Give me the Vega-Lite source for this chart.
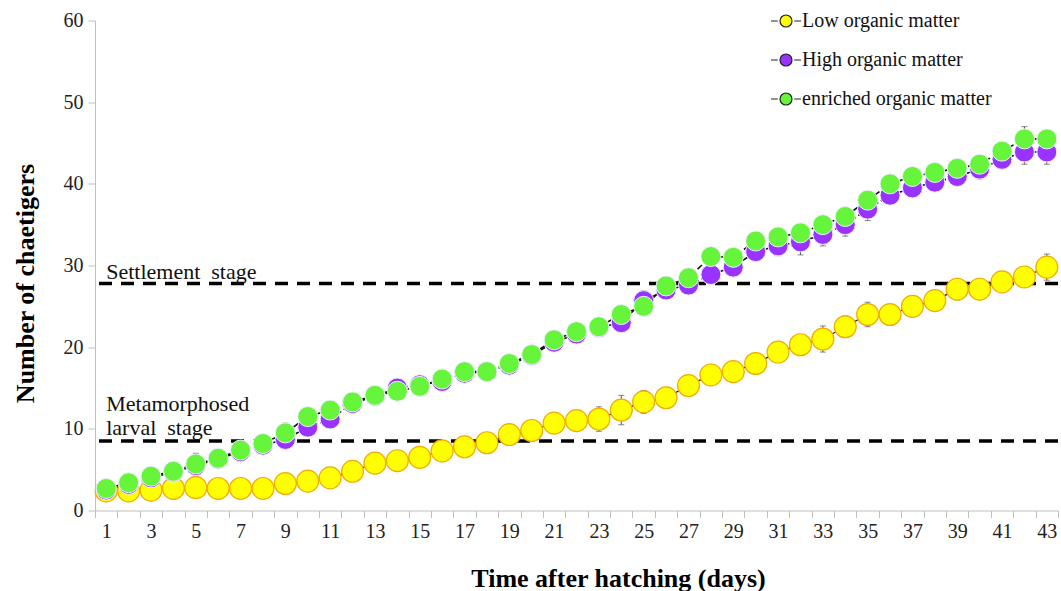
{
  "$schema": "https://vega.github.io/schema/vega-lite/v6.json",
  "width": 963,
  "height": 490,
  "autosize": {"type": "none"},
  "padding": {"left": 95, "top": 20.5, "right": 3, "bottom": 80.5},
  "background": "white",
  "config": {
    "view": {"stroke": null},
    "font": "Liberation Serif",
    "axis": {"grid": false, "domainColor": "#BFBFBF", "tickColor": "#BFBFBF", "tickSize": 7, "labelFont": "Liberation Serif", "labelFontSize": 20, "labelColor": "#222222", "titleFont": "Liberation Serif", "titleFontSize": 26, "titleFontWeight": "bold", "titleColor": "#000000"}
  },
  "data": {"values": [
    {"day":1,"series":"Low organic matter","value":2.4,"err":0.3},
    {"day":2,"series":"Low organic matter","value":2.4,"err":0.2},
    {"day":3,"series":"Low organic matter","value":2.5,"err":0.2},
    {"day":4,"series":"Low organic matter","value":2.7,"err":0.2},
    {"day":5,"series":"Low organic matter","value":2.8,"err":0.3},
    {"day":6,"series":"Low organic matter","value":2.7,"err":0.2},
    {"day":7,"series":"Low organic matter","value":2.7,"err":0.2},
    {"day":8,"series":"Low organic matter","value":2.7,"err":0.2},
    {"day":9,"series":"Low organic matter","value":3.3,"err":0.3},
    {"day":10,"series":"Low organic matter","value":3.6,"err":0.3},
    {"day":11,"series":"Low organic matter","value":4.0,"err":0.3},
    {"day":12,"series":"Low organic matter","value":4.8,"err":0.4},
    {"day":13,"series":"Low organic matter","value":5.8,"err":0.3},
    {"day":14,"series":"Low organic matter","value":6.1,"err":0.3},
    {"day":15,"series":"Low organic matter","value":6.5,"err":1.2},
    {"day":16,"series":"Low organic matter","value":7.3,"err":1.2},
    {"day":17,"series":"Low organic matter","value":7.8,"err":0.4},
    {"day":18,"series":"Low organic matter","value":8.3,"err":0.4},
    {"day":19,"series":"Low organic matter","value":9.3,"err":0.3},
    {"day":20,"series":"Low organic matter","value":9.8,"err":0.4},
    {"day":21,"series":"Low organic matter","value":10.7,"err":0.5},
    {"day":22,"series":"Low organic matter","value":11.0,"err":0.9},
    {"day":23,"series":"Low organic matter","value":11.2,"err":1.5},
    {"day":24,"series":"Low organic matter","value":12.3,"err":1.8},
    {"day":25,"series":"Low organic matter","value":13.3,"err":1.4},
    {"day":26,"series":"Low organic matter","value":13.8,"err":0.4},
    {"day":27,"series":"Low organic matter","value":15.3,"err":0.5},
    {"day":28,"series":"Low organic matter","value":16.6,"err":0.6},
    {"day":29,"series":"Low organic matter","value":17.0,"err":0.5},
    {"day":30,"series":"Low organic matter","value":18.0,"err":0.4},
    {"day":31,"series":"Low organic matter","value":19.4,"err":0.5},
    {"day":32,"series":"Low organic matter","value":20.3,"err":0.6},
    {"day":33,"series":"Low organic matter","value":21.0,"err":1.6},
    {"day":34,"series":"Low organic matter","value":22.5,"err":1.3},
    {"day":35,"series":"Low organic matter","value":24.0,"err":1.5},
    {"day":36,"series":"Low organic matter","value":24.0,"err":0.4},
    {"day":37,"series":"Low organic matter","value":25.0,"err":1.2},
    {"day":38,"series":"Low organic matter","value":25.7,"err":1.0},
    {"day":39,"series":"Low organic matter","value":27.1,"err":1.3},
    {"day":40,"series":"Low organic matter","value":27.1,"err":0.5},
    {"day":41,"series":"Low organic matter","value":28.0,"err":0.9},
    {"day":42,"series":"Low organic matter","value":28.6,"err":1.2},
    {"day":43,"series":"Low organic matter","value":29.8,"err":1.6},
    {"day":1,"series":"High organic matter","value":2.5,"err":0.3},
    {"day":2,"series":"High organic matter","value":3.2,"err":0.3},
    {"day":3,"series":"High organic matter","value":4.0,"err":0.3},
    {"day":4,"series":"High organic matter","value":4.7,"err":0.3},
    {"day":5,"series":"High organic matter","value":5.5,"err":1.3},
    {"day":6,"series":"High organic matter","value":6.3,"err":0.5},
    {"day":7,"series":"High organic matter","value":7.2,"err":0.4},
    {"day":8,"series":"High organic matter","value":8.0,"err":0.4},
    {"day":9,"series":"High organic matter","value":8.7,"err":1.0},
    {"day":10,"series":"High organic matter","value":10.2,"err":1.0},
    {"day":11,"series":"High organic matter","value":11.2,"err":0.8},
    {"day":12,"series":"High organic matter","value":13.1,"err":0.5},
    {"day":13,"series":"High organic matter","value":14.0,"err":0.4},
    {"day":14,"series":"High organic matter","value":15.0,"err":0.8},
    {"day":15,"series":"High organic matter","value":15.4,"err":0.5},
    {"day":16,"series":"High organic matter","value":15.8,"err":0.5},
    {"day":17,"series":"High organic matter","value":16.8,"err":0.4},
    {"day":18,"series":"High organic matter","value":17.0,"err":0.3},
    {"day":19,"series":"High organic matter","value":17.8,"err":0.4},
    {"day":20,"series":"High organic matter","value":19.0,"err":0.4},
    {"day":21,"series":"High organic matter","value":20.6,"err":0.5},
    {"day":22,"series":"High organic matter","value":21.6,"err":0.4},
    {"day":23,"series":"High organic matter","value":22.4,"err":0.3},
    {"day":24,"series":"High organic matter","value":23.0,"err":1.0},
    {"day":25,"series":"High organic matter","value":25.7,"err":1.2},
    {"day":26,"series":"High organic matter","value":27.0,"err":0.6},
    {"day":27,"series":"High organic matter","value":27.6,"err":1.0},
    {"day":28,"series":"High organic matter","value":28.9,"err":0.5},
    {"day":29,"series":"High organic matter","value":29.8,"err":0.8},
    {"day":30,"series":"High organic matter","value":31.7,"err":0.5},
    {"day":31,"series":"High organic matter","value":32.4,"err":1.2},
    {"day":32,"series":"High organic matter","value":32.9,"err":1.6},
    {"day":33,"series":"High organic matter","value":33.8,"err":1.4},
    {"day":34,"series":"High organic matter","value":35.0,"err":1.4},
    {"day":35,"series":"High organic matter","value":36.9,"err":1.4},
    {"day":36,"series":"High organic matter","value":38.6,"err":0.7},
    {"day":37,"series":"High organic matter","value":39.5,"err":1.0},
    {"day":38,"series":"High organic matter","value":40.2,"err":0.6},
    {"day":39,"series":"High organic matter","value":40.9,"err":0.6},
    {"day":40,"series":"High organic matter","value":41.8,"err":1.2},
    {"day":41,"series":"High organic matter","value":43.0,"err":0.8},
    {"day":42,"series":"High organic matter","value":43.9,"err":1.5},
    {"day":43,"series":"High organic matter","value":43.9,"err":1.5},
    {"day":1,"series":"enriched organic matter","value":2.7,"err":0.3},
    {"day":2,"series":"enriched organic matter","value":3.4,"err":0.3},
    {"day":3,"series":"enriched organic matter","value":4.2,"err":0.3},
    {"day":4,"series":"enriched organic matter","value":4.8,"err":0.4},
    {"day":5,"series":"enriched organic matter","value":5.7,"err":1.3},
    {"day":6,"series":"enriched organic matter","value":6.4,"err":0.5},
    {"day":7,"series":"enriched organic matter","value":7.4,"err":0.4},
    {"day":8,"series":"enriched organic matter","value":8.2,"err":0.4},
    {"day":9,"series":"enriched organic matter","value":9.5,"err":1.2},
    {"day":10,"series":"enriched organic matter","value":11.5,"err":1.0},
    {"day":11,"series":"enriched organic matter","value":12.3,"err":0.5},
    {"day":12,"series":"enriched organic matter","value":13.3,"err":0.4},
    {"day":13,"series":"enriched organic matter","value":14.1,"err":0.3},
    {"day":14,"series":"enriched organic matter","value":14.6,"err":0.3},
    {"day":15,"series":"enriched organic matter","value":15.2,"err":0.3},
    {"day":16,"series":"enriched organic matter","value":16.1,"err":0.3},
    {"day":17,"series":"enriched organic matter","value":17.0,"err":0.3},
    {"day":18,"series":"enriched organic matter","value":17.0,"err":0.3},
    {"day":19,"series":"enriched organic matter","value":18.0,"err":0.4},
    {"day":20,"series":"enriched organic matter","value":19.1,"err":0.3},
    {"day":21,"series":"enriched organic matter","value":20.9,"err":0.3},
    {"day":22,"series":"enriched organic matter","value":21.9,"err":0.3},
    {"day":23,"series":"enriched organic matter","value":22.5,"err":0.3},
    {"day":24,"series":"enriched organic matter","value":24.0,"err":0.3},
    {"day":25,"series":"enriched organic matter","value":25.0,"err":0.4},
    {"day":26,"series":"enriched organic matter","value":27.5,"err":0.4},
    {"day":27,"series":"enriched organic matter","value":28.5,"err":0.4},
    {"day":28,"series":"enriched organic matter","value":31.1,"err":0.4},
    {"day":29,"series":"enriched organic matter","value":31.0,"err":0.4},
    {"day":30,"series":"enriched organic matter","value":33.0,"err":0.5},
    {"day":31,"series":"enriched organic matter","value":33.5,"err":0.5},
    {"day":32,"series":"enriched organic matter","value":34.0,"err":0.4},
    {"day":33,"series":"enriched organic matter","value":35.0,"err":0.4},
    {"day":34,"series":"enriched organic matter","value":36.0,"err":1.0},
    {"day":35,"series":"enriched organic matter","value":38.0,"err":0.5},
    {"day":36,"series":"enriched organic matter","value":40.0,"err":0.5},
    {"day":37,"series":"enriched organic matter","value":40.9,"err":0.5},
    {"day":38,"series":"enriched organic matter","value":41.4,"err":0.5},
    {"day":39,"series":"enriched organic matter","value":41.9,"err":0.5},
    {"day":40,"series":"enriched organic matter","value":42.4,"err":0.5},
    {"day":41,"series":"enriched organic matter","value":44.0,"err":1.0},
    {"day":42,"series":"enriched organic matter","value":45.5,"err":1.5},
    {"day":43,"series":"enriched organic matter","value":45.5,"err":1.0}
  ]},
  "encoding": {
    "x": {
      "field": "day", "type": "ordinal",
      "scale": {"type": "band", "paddingInner": 0, "paddingOuter": 0},
      "axis": {
        "title": "Time after hatching (days)",
        "labelAngle": 0,
        "tickBand": "extent",
        "labelPadding": 4,
        "labelExpr": "datum.value % 2 == 1 ? datum.label : ''",
        "titleX": 523, "titleY": 75.5, "titleBaseline": "alphabetic", "titleAlign": "center", "titleAnchor": null
      }
    },
    "y": {
      "field": "value", "type": "quantitative",
      "scale": {"domain": [0, 60]},
      "title": "Number of chaetigers",
      "axis": {"values": [0, 10, 20, 30, 40, 50, 60], "labelPadding": 5, "titleX": -62, "titleY": 262.5, "titleBaseline": "alphabetic", "titleAlign": "center", "titleAnchor": null}
    }
  },
  "layer": [
    {
      "data": {"values": [{"value": 27.8}, {"value": 8.5}]},
      "mark": {"type": "rule", "color": "#000000", "strokeWidth": 3.5, "strokeDash": [13, 9]},
      "encoding": {"x": null}
    },
    {
      "data": {"values": [
        {"day": 1, "value": 28.4, "label": "Settlement\u00a0 stage"},
        {"day": 1, "value": 12.2, "label": "Metamorphosed"},
        {"day": 1, "value": 9.2, "label": "larval\u00a0 stage"}
      ]},
      "mark": {"type": "text", "align": "left", "baseline": "alphabetic", "font": "Liberation Serif", "fontSize": 22, "color": "#111111", "dx": 0},
      "encoding": {"text": {"field": "label"}}
    },
    {
      "mark": {"type": "errorbar", "color": "#555555", "ticks": {"size": 6, "strokeWidth": 1}, "rule": {"strokeWidth": 1}},
      "encoding": {
        "yError": {"field": "err"},
        "detail": {"field": "series"}
      }
    },
    {
      "transform": [{"filter": "datum.series == 'Low organic matter'"}],
      "mark": {"type": "line", "color": "#1a1a1a", "strokeWidth": 1.3}
    },
    {
      "transform": [{"filter": "datum.series != 'Low organic matter'"}],
      "mark": {"type": "line", "color": "#111111", "strokeWidth": 1.6, "strokeDash": [6, 3]},
      "encoding": {"detail": {"field": "series"}}
    },
    {
      "transform": [{"filter": "datum.series == 'Low organic matter'"}],
      "mark": {"type": "point", "filled": true, "opacity": 1, "size": 480, "stroke": "#F2AC00", "strokeWidth": 1.2},
      "encoding": {
        "color": {
          "field": "series", "type": "nominal",
          "scale": {"domain": ["Low organic matter", "High organic matter", "enriched organic matter"], "range": ["#FFFF00", "#9933FF", "#66F53A"]},
          "legend": {
            "title": null, "orient": "none", "legendX": 675, "legendY": -15.5,
            "symbolType": "M-1,0H-0.55M0.55,0H1M-0.4,0A0.4,0.4,0,1,0,0.4,0A0.4,0.4,0,1,0,-0.4,0Z",
            "symbolSize": 900, "symbolStrokeColor": "#222222", "symbolStrokeWidth": 1.2,
            "labelFont": "Liberation Serif", "labelFontSize": 20, "labelColor": "#111111", "labelLimit": 400,
            "labelOffset": 0, "rowPadding": 13, "padding": 0,
            "encode": {"symbols": {"update": {"size": {"value": 900}, "stroke": {"value": "#222222"}, "strokeWidth": {"value": 1.1}, "opacity": {"value": 1}}}}
          }
        }
      }
    },
    {
      "transform": [{"filter": "datum.series != 'Low organic matter'"}],
      "mark": {"type": "point", "filled": true, "opacity": 1, "size": 400, "stroke": "#EEEEFF", "strokeWidth": 1},
      "encoding": {
        "color": {"field": "series", "type": "nominal"}
      }
    }
  ]
}
